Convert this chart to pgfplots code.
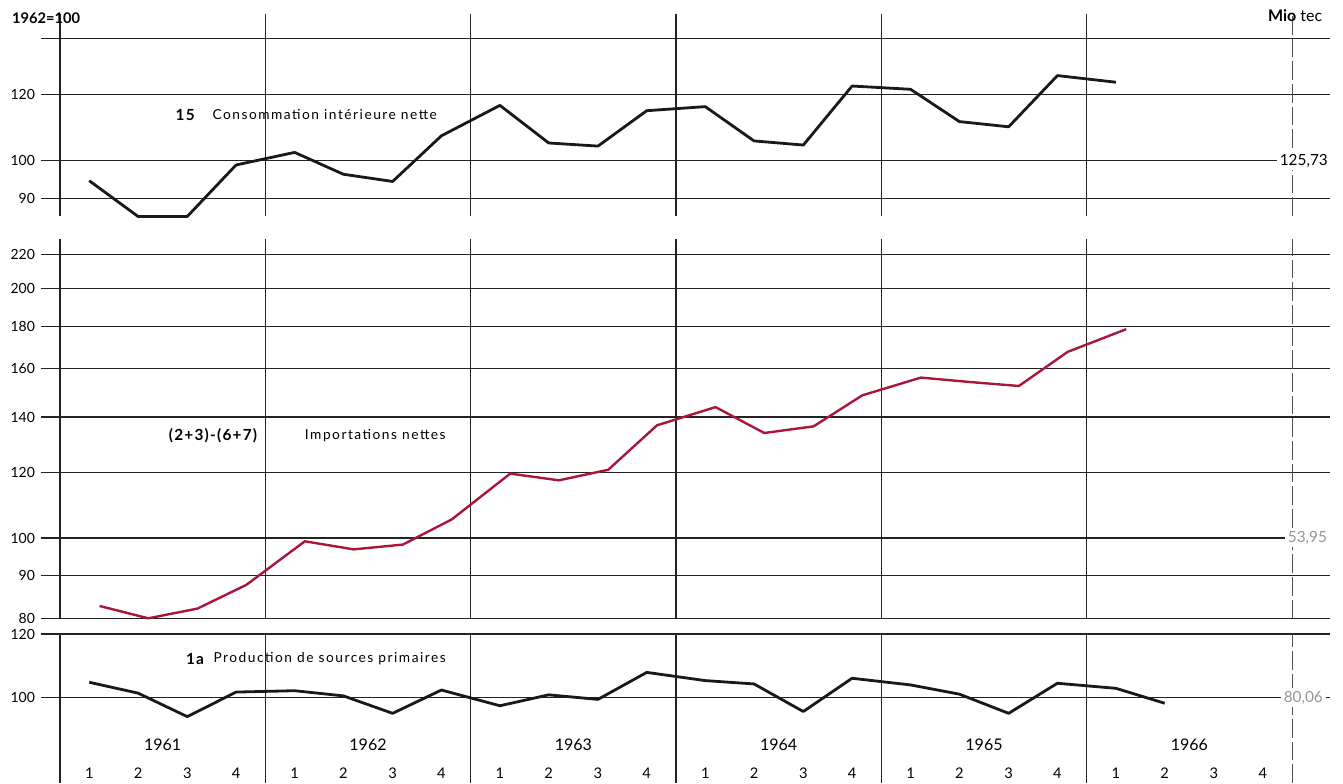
\documentclass[border=0pt]{standalone}
\usepackage{fontspec}
\setmainfont{Lato}
\newfontfamily\spaced[LetterSpace=11]{Lato}
\newfontfamily\spacedb[LetterSpace=8]{Lato}
\usepackage{pgfplots}
\pgfplotsset{compat=1.18}

\definecolor{gridc}{RGB}{35,35,35}
\definecolor{imp}{RGB}{168,22,58}
\definecolor{lightlab}{RGB}{150,150,150}

\pgfplotsset{
  mypanel/.style={
    scale only axis, width=966.75pt,
    xmin=-0.37, xmax=24.74,
    axis line style={draw=none},
    major tick length=0pt,
    clip=false,
    xtick={0,4,...,20}, xticklabels={},
    xmajorgrids, ymajorgrids,
    major grid style={gridc, line width=0.8pt},
    extra x ticks={24}, extra x tick labels={},
    extra x tick style={xmajorgrids=true, major grid style={gridc!80, line width=0.7pt, dash pattern=on 14pt off 3pt}},
    yticklabel style={font=\fontsize{10.5}{12}\selectfont, xshift=-1pt},
    /pgf/number format/assume math mode=true,
  },
  myseries/.style={line width=2.1pt, line join=round},
}
\tikzset{
  yearlab/.style={font=\fontsize{12}{14}\selectfont},
  ptitle/.style={anchor=west, font=\spaced\fontsize{10.3}{12}\selectfont},
  pnum/.style={font=\spacedb\bfseries\fontsize{11.5}{13}\selectfont},
  rlab/.style={fill=white, inner sep=2pt, font=\fontsize{11.5}{13}\selectfont},
}

\begin{document}
\begin{tikzpicture}
\useasboundingbox (0,0) rectangle (1007.25pt,587.25pt);

% 15 Consommation interieure nette
\begin{axis}[mypanel, ymode=log, at={(30.75pt,425.25pt)}, anchor=south west,
  height=151.5pt, ymin=85.81, ymax=150,
  ytick={90,100,120,140}, yticklabels={90,100,120,{}}]
\addplot[myseries, black!90] coordinates {
  (0.57,94.6) (1.52,85.7) (2.48,85.7) (3.43,98.8)
  (4.57,102.3) (5.52,96.3) (6.48,94.4) (7.43,107.1)
  (8.57,116.5) (9.52,105.0) (10.48,104.1) (11.43,114.8)
  (12.57,116.1) (13.52,105.6) (14.48,104.4) (15.43,122.9)
  (16.57,121.8) (17.52,111.4) (18.48,109.8) (19.43,126.5)
  (20.57,124.2)
};
\node[pnum] at (axis cs:2.44,113.5) {15};
\node[ptitle] at (axis cs:2.88,113.5) {Consommation intérieure nette};
\node[font=\bfseries\fontsize{11}{12}\selectfont] at (axis cs:-0.27,148.3) {1962=100};
\node[font=\fontsize{12}{13}\selectfont] at (axis cs:24.06,149.5) {\textbf{Mio} tec};
\node[rlab] at (axis cs:24.23,100) {125,73};
\end{axis}

% (2+3)-(6+7) Importations nettes
\begin{axis}[mypanel, ymode=log, at={(30.75pt,123.5pt)}, anchor=south west,
  height=284.25pt, ymin=80, ymax=229.4,
  ytick={80,90,100,120,140,160,180,200,220},
  yticklabels={80,90,100,120,140,160,180,200,220}]
\addplot[myseries, imp, line width=1.8pt] coordinates {
  (0.77,82.8) (1.72,80.0) (2.68,82.2) (3.63,87.8)
  (4.77,99.1) (5.72,96.9) (6.68,98.2) (7.63,105.3)
  (8.77,119.6) (9.72,117.4) (10.68,120.9) (11.63,136.8)
  (12.77,143.9) (13.72,133.9) (14.68,136.4) (15.63,148.7)
  (16.77,156.2) (17.72,154.3) (18.68,152.6) (19.63,167.8)
  (20.77,178.7)
};
\node[pnum] at (axis cs:2.98,133) {(2+3)-(6+7)};
\node[ptitle] at (axis cs:4.68,133) {Importations nettes};
\node[rlab, text=lightlab] at (axis cs:24.3,100) {53,95};
\end{axis}

% 1a Production de sources primaires
\begin{axis}[mypanel, ymode=log, at={(30.75pt,0pt)}, anchor=south west,
  height=111.75pt, ymin=78.32, ymax=120,
  ytick={100,120}, yticklabels={100,120},
  xmajorgrids=false,
  xtick={0.57,1.52,2.48,3.43,4.57,5.52,6.48,7.43,8.57,9.52,10.48,11.43,12.57,13.52,14.48,15.43,16.57,17.52,18.48,19.43,20.57,21.52,22.48,23.43},
  xticklabels={1,2,3,4,1,2,3,4,1,2,3,4,1,2,3,4,1,2,3,4,1,2,3,4},
  xticklabel style={anchor=center, yshift=7.5pt, font=\fontsize{11}{12}\selectfont},
  extra x ticks={0,4,8,12,16,20}, extra x tick labels={},
  extra x tick style={xmajorgrids=true, major grid style={gridc, solid, line width=0.8pt}}]
\addplot[myseries, black!90] coordinates {
  (0.57,104.5) (1.52,101.3) (2.48,94.7) (3.43,101.6)
  (4.57,102.0) (5.52,100.5) (6.48,95.6) (7.43,102.2)
  (8.57,97.7) (9.52,100.8) (10.48,99.5) (11.43,107.5)
  (12.57,105.0) (13.52,104.0) (14.48,96.1) (15.43,105.7)
  (16.57,103.7) (17.52,101.0) (18.48,95.6) (19.43,104.2)
  (20.57,102.7) (21.52,98.4)
};
\draw[gridc!80, line width=0.7pt, dash pattern=on 14pt off 3pt] (axis cs:24,78.32) -- (axis cs:24,120);
\node[pnum] at (axis cs:2.63,111.7) {1a};
\node[ptitle] at (axis cs:2.9,111.7) {Production de sources primaires};
\node[rlab, text=lightlab] at (axis cs:24.22,100) {80,06};
\node[yearlab] at (axis cs:2,87.3) {1961};
\node[yearlab] at (axis cs:6,87.3) {1962};
\node[yearlab] at (axis cs:10,87.3) {1963};
\node[yearlab] at (axis cs:14,87.3) {1964};
\node[yearlab] at (axis cs:18,87.3) {1965};
\node[yearlab] at (axis cs:22,87.3) {1966};
\end{axis}
\end{tikzpicture}
\end{document}
